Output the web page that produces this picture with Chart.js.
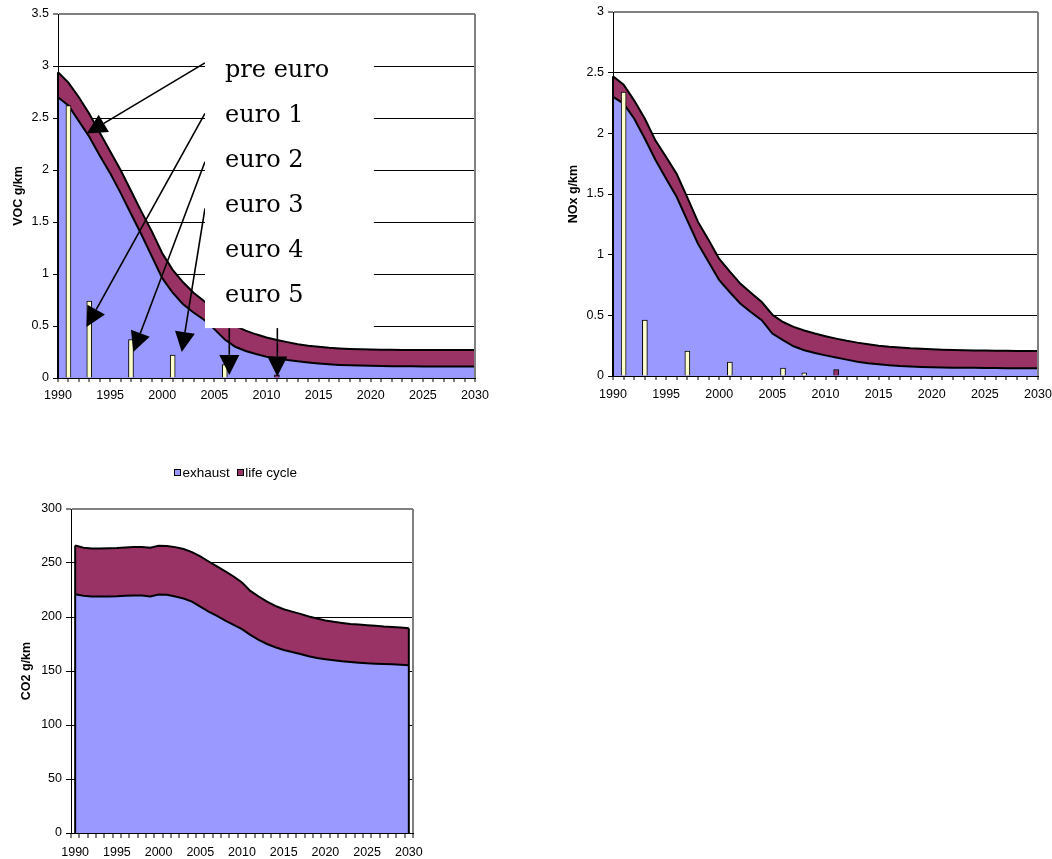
<!DOCTYPE html>
<html>
<head>
<meta charset="utf-8">
<script src="https://cdn.jsdelivr.net/npm/chart.js@4.4.1/dist/chart.umd.min.js"></script>
<style>
  html, body { margin: 0; padding: 0; background: #fff; width: 1052px; height: 859px; overflow: hidden; }
  .pane { position: absolute; }
  canvas { display: block; }
</style>
</head>
<body>
<div class="pane" style="left:0;top:0;"><canvas id="voc" width="490" height="400"></canvas></div>
<div class="pane" style="left:560px;top:0;"><canvas id="nox" width="492" height="400"></canvas></div>
<div class="pane" style="left:0;top:460px;"><canvas id="co2" width="474" height="399"></canvas></div>
<script>
// ---- categories -------------------------------------------------------
const YEARS = ['1990','1991','1992','1993','1994','1995','1996','1997','1998','1999',
               '2000','2001','2002','2003','2004','2005','2006','2007','2008','2009',
               '2010','2011','2012','2013','2014','2015','2016','2017','2018','2019',
               '2020','2021','2022','2023','2024','2025','2026','2027','2028','2029','2030'];

// ---- VOC (g/km) -------------------------------------------------------
const VOC_EXHAUST = [2.70, 2.62, 2.47, 2.32, 2.14, 1.97, 1.78, 1.58, 1.38, 1.17,
                     0.96, 0.82, 0.71, 0.63, 0.56, 0.47, 0.37, 0.30, 0.26, 0.23,
                     0.205, 0.19, 0.173, 0.16, 0.15, 0.14, 0.132, 0.126, 0.122, 0.119,
                     0.117, 0.115, 0.114, 0.113, 0.112, 0.111, 0.110, 0.110, 0.110, 0.110, 0.110];
const VOC_LIFE_CYCLE = [0.24, 0.22, 0.23, 0.22, 0.22, 0.21, 0.22, 0.22, 0.22, 0.24,
                        0.24, 0.22, 0.21, 0.19, 0.18, 0.18, 0.20, 0.20, 0.195, 0.19,
                        0.185, 0.175, 0.172, 0.165, 0.16, 0.16, 0.158, 0.158, 0.157, 0.157,
                        0.157, 0.157, 0.157, 0.157, 0.158, 0.159, 0.16, 0.16, 0.16, 0.16, 0.16];
const VOC_LIMIT_YEARS = ['1991', '1993', '1997', '2001', '2006', '2011'];
const VOC_LIMITS = [2.62, 0.74, 0.37, 0.22, 0.13, 0.03];

// ---- NOx (g/km) -------------------------------------------------------
const NOX_EXHAUST = [2.30, 2.245, 2.12, 1.955, 1.78, 1.625, 1.475, 1.28, 1.09, 0.94,
                     0.79, 0.69, 0.595, 0.525, 0.46, 0.35, 0.295, 0.245, 0.212, 0.19,
                     0.17, 0.152, 0.135, 0.118, 0.105, 0.097, 0.089, 0.083, 0.079, 0.075,
                     0.072, 0.07, 0.069, 0.068, 0.067, 0.066, 0.065, 0.064, 0.064, 0.063, 0.063];
const NOX_LIFE_CYCLE = [0.17, 0.155, 0.15, 0.165, 0.16, 0.18, 0.19, 0.19, 0.18, 0.18,
                        0.175, 0.17, 0.165, 0.16, 0.15, 0.155, 0.15, 0.16, 0.163, 0.16,
                        0.158, 0.156, 0.155, 0.157, 0.157, 0.153, 0.152, 0.151, 0.149, 0.149,
                        0.148, 0.147, 0.146, 0.145, 0.144, 0.144, 0.144, 0.144, 0.143, 0.143, 0.143];
const NOX_LIMIT_YEARS = ['1991', '1993', '1997', '2001', '2006', '2008', '2011'];
const NOX_LIMITS = [2.34, 0.46, 0.205, 0.115, 0.066, 0.027, 0.052];

// ---- CO2 (g/km) -------------------------------------------------------
const CO2_EXHAUST = [221.1, 219.6, 219.0, 219.0, 219.0, 219.2, 219.6, 219.9, 219.9, 219.0,
                     220.8, 220.5, 219.0, 217.1, 214.3, 209.7, 205.0, 201.0, 196.7, 192.7,
                     188.7, 183.4, 178.8, 175.0, 172.0, 169.5, 167.6, 165.8, 163.6, 162.1,
                     160.8, 159.9, 159.0, 158.4, 157.7, 157.1, 156.8, 156.5, 156.2, 155.9, 155.3];
const CO2_LIFE_CYCLE = [45.2, 44.5, 44.5, 44.5, 44.6, 44.6, 44.8, 44.8, 44.8, 45.1,
                        45.2, 45.2, 45.7, 45.8, 45.8, 46.4, 46.4, 45.8, 45.5, 44.8,
                        43.3, 40.8, 40.2, 39.3, 38.3, 37.7, 37.4, 37.1, 36.8, 36.5,
                        35.9, 35.6, 35.5, 35.2, 35.3, 35.3, 35.0, 34.6, 34.6, 34.3, 34.3];

// ---- Euro standard call-outs on the VOC panel (year, g/km) -------------
const NOTE_LABELS = ['pre euro', 'euro 1', 'euro 2', 'euro 3', 'euro 4', 'euro 5'];
const NOTE_BOX = { from: 2004.1, to: 2020.3, top: 3.04, bottom: 0.48 };
const NOTE_ARROWS = [
  { from: [2004.1, 3.03],  to: [1992.75, 2.35] },
  { from: [2004.1, 2.545], to: [1992.73, 0.49] },
  { from: [2004.1, 2.08],  to: [1997.22, 0.25] },
  { from: [2004.1, 1.63],  to: [2001.87, 0.25] },
  { from: [2006.43, 0.5],  to: [2006.43, 0.03] },
  { from: [2011.04, 0.5],  to: [2011.04, 0.015] }
];

// ---- styling ----------------------------------------------------------
const FONT = '"Liberation Sans", Arial, Helvetica, sans-serif';
const BLUE = '#9999FF';
const PLUM = '#993366';
const CREAM = '#FFFFCC';
const FRAME = '#808080';

Chart.defaults.font.family = FONT;
Chart.defaults.font.size = 12;
Chart.defaults.color = '#000';
Chart.defaults.animation = false;

// Black vertical edges closing the stacked area at both ends.
const areaEdges = {
  id: 'areaEdges',
  afterDatasetsDraw(chart) {
    const meta = chart.getDatasetMeta(1);
    const base = chart.scales.y.getPixelForValue(0);
    const pts = meta.data;
    if (!pts.length) return;
    const ctx = chart.ctx;
    ctx.save();
    ctx.strokeStyle = '#000';
    ctx.lineWidth = 2;
    [pts[0], pts[pts.length - 1]].forEach(p => {
      ctx.beginPath();
      ctx.moveTo(p.x, p.y);
      ctx.lineTo(p.x, base);
      ctx.stroke();
    });
    ctx.restore();
  }
};

// Small square-swatch legend drawn above the plot.
const boxLegend = {
  id: 'boxLegend',
  afterDraw(chart, args, opts) {
    const ctx = chart.ctx;
    const items = chart.data.datasets.filter(d => d.type === 'line');
    const box = 6, gap = 2.5, itemGap = 7;
    ctx.save();
    ctx.font = '13.5px ' + FONT;
    const widths = items.map(d => ctx.measureText(d.label).width);
    const total = widths.reduce((s, w) => s + box + gap + w, 0) + itemGap * (items.length - 1);
    let x = opts.centerX - total / 2;
    const y = opts.y;
    items.forEach((d, i) => {
      const bx = Math.round(x), by = Math.round(y - box / 2);
      ctx.fillStyle = d.backgroundColor;
      ctx.fillRect(bx, by, box, box);
      ctx.strokeStyle = '#000';
      ctx.lineWidth = 1;
      ctx.strokeRect(bx + 0.5, by + 0.5, box, box);
      ctx.fillStyle = '#000';
      ctx.textBaseline = 'middle';
      ctx.textAlign = 'left';
      ctx.fillText(d.label, x + box + gap, y + 1);
      x += box + gap + widths[i] + itemGap;
    });
    ctx.restore();
  }
};

// White call-out box with arrows pointing at the Euro standard bars.
const euroNotes = {
  id: 'euroNotes',
  afterDraw(chart) {
    const { ctx, scales: { x, y } } = chart;
    const first = Number(YEARS[0]);
    const px = yr => x.getPixelForValue(yr - first);
    const py = v => y.getPixelForValue(v);
    ctx.save();
    ctx.strokeStyle = '#000';
    ctx.fillStyle = '#000';
    ctx.lineWidth = 1.6;
    NOTE_ARROWS.forEach(a => {
      const x0 = px(a.from[0]), y0 = py(a.from[1]);
      const x1 = px(a.to[0]), y1 = py(a.to[1]);
      const ang = Math.atan2(y1 - y0, x1 - x0);
      const hl = 20, hw = 10;
      const bx = x1 - hl * Math.cos(ang), by = y1 - hl * Math.sin(ang);
      ctx.beginPath();
      ctx.moveTo(x0, y0);
      ctx.lineTo(bx, by);
      ctx.stroke();
      ctx.beginPath();
      ctx.moveTo(x1, y1);
      ctx.lineTo(bx + hw * Math.sin(ang), by - hw * Math.cos(ang));
      ctx.lineTo(bx - hw * Math.sin(ang), by + hw * Math.cos(ang));
      ctx.closePath();
      ctx.fill();
    });
    const bl = px(NOTE_BOX.from), br = px(NOTE_BOX.to);
    const bt = py(NOTE_BOX.top), bb = py(NOTE_BOX.bottom);
    ctx.fillStyle = '#fff';
    ctx.fillRect(bl, bt, br - bl, bb - bt);
    ctx.fillStyle = '#000';
    ctx.font = '24px "DejaVu Serif", "Liberation Serif", serif';
    ctx.textAlign = 'left';
    ctx.textBaseline = 'alphabetic';
    NOTE_LABELS.forEach((t, i) => ctx.fillText(t, bl + 20, bt + 15.5 + 45 * i));
    ctx.restore();
  }
};

function buildScales(o) {
  const last = YEARS.length - 1;
  return {
    x: {
      type: 'category',
      offset: o.offset,
      grid: {
        offset: o.offset,
        z: 1,
        drawOnChartArea: true,
        color: c => (c.type === 'tick' && !(c.index === last && !o.offset)) ? 'rgba(0,0,0,0)' : FRAME,
        lineWidth: 2,
        tickColor: '#000',
        tickWidth: 1,
        tickLength: o.xTick
      },
      border: { color: '#000', width: 1, z: 1 },
      ticks: {
        autoSkip: false, maxRotation: 0, minRotation: 0,
        padding: o.xPad, color: '#000', font: { size: 12.5 },
        callback(v) {
          const label = this.getLabelForValue(v);
          return Number(label) % 5 === 0 ? label : '';
        }
      },
      afterFit(s) {
        s.height = o.xHeight;
        // plot edges are fixed by the layout padding alone
        s.paddingLeft = 0;
        s.paddingRight = 0;
      }
    },
    y: {
      type: 'linear',
      stacked: true,
      min: 0,
      max: o.max,
      grid: {
        color: c => (c.tick && c.tick.value === o.max) ? FRAME : '#000',
        lineWidth: c => (c.tick && c.tick.value === o.max) ? 2 : 1,
        tickColor: '#000',
        tickWidth: 1,
        tickLength: 5
      },
      border: { color: '#000', width: 1 },
      ticks: { stepSize: o.step, padding: 4, color: '#000', font: { size: 12.5 }, callback: v => String(v) },
      title: {
        display: true, text: o.title, color: '#000',
        font: { size: 12.5, weight: 'bold' },
        padding: { top: o.titlePad, bottom: 0 }
      },
      afterFit(s) {
        s.width = o.yWidth;
        s.paddingTop = 0;
        s.paddingBottom = 0;
      }
    }
  };
}

function areaSets(exhaust, lifeCycle) {
  return [
    { type: 'line', label: 'exhaust', data: exhaust, backgroundColor: BLUE, borderColor: '#000',
      borderWidth: 2, fill: 'origin', pointRadius: 0, tension: 0, order: 1 },
    { type: 'line', label: 'life cycle', data: lifeCycle, backgroundColor: PLUM, borderColor: '#000',
      borderWidth: 2, fill: '-1', pointRadius: 0, tension: 0, order: 1 }
  ];
}

function limitSet(years, values) {
  return {
    type: 'bar', label: 'limit',
    data: years.map((yr, i) => ({ x: yr, y: values[i] })),
    backgroundColor: c => c.dataIndex === values.length - 1 ? PLUM : CREAM,
    borderColor: '#000', borderWidth: 1, borderSkipped: 'start',
    barThickness: 5, order: 0
  };
}

function makeChart(id, datasets, scaleOpts, padding, plugins, pluginOpts) {
  return new Chart(document.getElementById(id), {
    type: 'line',
    data: { labels: YEARS, datasets },
    options: {
      responsive: false,
      animation: false,
      layout: { padding },
      plugins: Object.assign({ legend: { display: false }, tooltip: { enabled: false } }, pluginOpts || {}),
      scales: buildScales(scaleOpts)
    },
    plugins
  });
}

makeChart('voc',
  [...areaSets(VOC_EXHAUST, VOC_LIFE_CYCLE), limitSet(VOC_LIMIT_YEARS, VOC_LIMITS)],
  { offset: false, xTick: 4, xPad: 6, xHeight: 22, max: 3.5, step: 0.5, title: 'VOC g/km', titlePad: 11, yWidth: 58 },
  { left: 0, top: 14, right: 15, bottom: 0 },
  [areaEdges, euroNotes]);

makeChart('nox',
  [...areaSets(NOX_EXHAUST, NOX_LIFE_CYCLE), limitSet(NOX_LIMIT_YEARS, NOX_LIMITS)],
  { offset: false, xTick: 4, xPad: 7, xHeight: 24, max: 3, step: 0.5, title: 'NOx g/km', titlePad: 6, yWidth: 53 },
  { left: 0, top: 12, right: 14, bottom: 0 },
  [areaEdges]);

makeChart('co2',
  areaSets(CO2_EXHAUST, CO2_LIFE_CYCLE),
  { offset: true, xTick: 5, xPad: 7, xHeight: 26, max: 300, step: 50, title: 'CO2 g/km', titlePad: 19, yWidth: 71 },
  { left: 0, top: 49, right: 61, bottom: 0 },
  [areaEdges, boxLegend],
  { boxLegend: { centerX: 235.5, y: 12 } });
</script>
</body>
</html>
